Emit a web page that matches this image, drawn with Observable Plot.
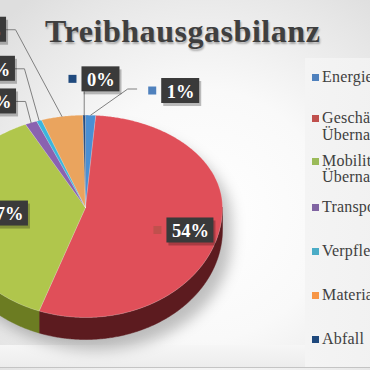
<!DOCTYPE html>
<html>
<head>
<meta charset="utf-8">
<script src="https://cdn.jsdelivr.net/npm/d3@7"></script>
<script src="https://cdn.jsdelivr.net/npm/@observablehq/plot@0.6"></script>
<style>
  html, body { margin: 0; padding: 0; background: #fff; }
  #wrap {
    position: relative; width: 370px; height: 370px; overflow: hidden;
    background: radial-gradient(ellipse 75% 75% at 55% 58%, #ffffff 0%, #f9f9f9 45%, #e6e6e6 85%, #dedede 100%);
    font-family: "Liberation Serif", serif;
  }
  #bottomband { position: absolute; left: 0; top: 345px; width: 370px; height: 23px;
    background: linear-gradient(#f6f6f6, #ececec); }
  #bottomline { position: absolute; left: 0; top: 367px; width: 370px; height: 1px; background: #c4c4c4; }
  #legendpanel { position: absolute; left: 305px; top: 58px; width: 80px; height: 309px;
    background: linear-gradient(90deg, #f4f4f4, #f1f1f1); }
  #chart { position: absolute; left: 0; top: 0; }
  #title { position: absolute; left: 45px; top: 15px; font-size: 32px; line-height: 32px; font-weight: bold;
    letter-spacing: 0.55px; color: #3f3f3f; white-space: nowrap;
    text-shadow: 1px 2px 2px rgba(0,0,0,0.3); }
  .item { position: absolute; left: 322px; font-size: 16px; line-height: 16.5px; color: #404040; white-space: nowrap; letter-spacing: 0.2px; }
  .sw { position: absolute; left: 311.5px; width: 7.5px; height: 7px; }
</style>
</head>
<body>
<div id="wrap">
  <div id="bottomband"></div>
  <div id="bottomline"></div>
  <div id="legendpanel"></div>
  <div id="chart"></div>
  <div id="title">Treibhausgasbilanz</div>
</div>
<script>
// ---- data ----
const categories = ["Energie", "Geschäftsreisen & Übernachtungen", "Mobilität Teilnehmende & Übernachtungen", "Transport", "Verpflegung", "Material", "Abfall"];
const legendLines = [["Energie"], ["Geschäftsreisen &", "Übernachtungen"], ["Mobilität Teilnehmende &", "Übernachtungen"], ["Transport"], ["Verpflegung"], ["Material"], ["Abfall"]];
const shares = [1.2, 54.3, 37.3, 1.4, 0.6, 4.9, 0.3];
const pctLabels = shares.map(v => Math.round(v) + "%");

// ---- style ----
const keyColors  = ["#4f81bd", "#c0504d", "#9bbb59", "#8064a2", "#4bacc6", "#f79646", "#1f497d"];
const faceColors = ["#4a8fd3", "#e04f59", "#b0c64c", "#8a62b0", "#3cb5dc", "#eaa45e", "#274d80"];
const sideColors = ["#2c5a8c", "#5c1b1f", "#6c7c22", "#4e3470", "#21708a", "#9a6020", "#142a48"];
const legendCenters = [77.5, 118.5, 161, 207, 251, 295, 339];

// ---- layout (data units: 1 = pie radius) ----
const CX = 85, CY = 207, SX = 137, SY = 110, TOP = 0.84, DEPTH = 22 / SY;
const labelLayout = [
  {lx: 0.695, ly: -1.059, leader: "left"},
  {lx: 0.766, ly: 0.209, leader: null},
  {lx: -0.588, ly: 0.055, leader: null},
  {lx: -0.642, ly: -0.964, leader: "right"},
  {lx: -0.650, ly: -1.261, leader: "right"},
  {lx: -0.715, ly: -1.616, leader: "right"},
  {lx: 0.113, ly: -1.165, leader: "below"}
];

const pt = a => ({x: Math.sin(a), y: -Math.cos(a) * (Math.cos(a) > 0 ? TOP : 1)});
const arcs = d3.pie().sort(null).value(d => d)(shares);
const STEP = Math.PI / 360;
function arcPoints(a0, a1) {
  const n = Math.max(1, Math.ceil((a1 - a0) / STEP));
  return d3.range(n + 1).map(k => pt(a0 + (a1 - a0) * k / n));
}

const faces = [], sides = [];
arcs.forEach((d, i) => {
  const ps = [{x: 0, y: 0}, ...arcPoints(d.startAngle, d.endAngle), {x: 0, y: 0}];
  ps.forEach(p => faces.push({...p, key: categories[i], fill: faceColors[i]}));
  const a0 = Math.max(d.startAngle, Math.PI / 2), a1 = Math.min(d.endAngle, 3 * Math.PI / 2);
  if (a0 < a1) {
    const top = arcPoints(a0, a1);
    const bot = top.map(p => ({x: p.x, y: p.y + DEPTH})).reverse();
    [...top, ...bot, top[0]].forEach(p => sides.push({...p, key: categories[i], fill: sideColors[i]}));
  }
});

const shadow = d3.range(-1, 1.0001, 0.01).map(x => {
  const c = Math.sqrt(Math.max(0, 1 - x * x));
  return {x: x + 0.07, y1: -c * TOP + 0.12, y2: c + DEPTH + 0.1};
});

const labels = arcs.map((d, i) => {
  const L = labelLayout[i];
  const txt = pctLabels[i];
  const wpx = 11 + 9 * (txt.length - 1) + 18;
  const w = wpx / SX, h = 25 / SY;
  const x1 = L.lx - w / 2, x2 = L.lx + w / 2, y1 = L.ly - h / 2, y2 = L.ly + h / 2;
  const kx2 = x1 - 5 / SX, kx1 = kx2 - 8 / SX;
  return {i, txt, lx: L.lx, ly: L.ly, x1, x2, y1, y2, kx1, kx2, ky1: L.ly - 4 / SY, ky2: L.ly + 4 / SY,
    sx1: x1 + 2 / SX, sx2: x2 + 2 / SX, sy1: y1 + 3 / SY, sy2: y2 + 3 / SY,
    key: keyColors[i], leader: L.leader, mid: (d.startAngle + d.endAngle) / 2};
});

const leaders = [];
labels.forEach(l => {
  if (!l.leader) return;
  const P = pt(l.mid);
  let pts;
  if (l.leader === "right") {
    pts = [{x: l.x2, y: l.ly}, {x: l.x2 + 9 / SX, y: l.ly}, P];
  } else if (l.leader === "left") {
    const sx = l.kx1 - 12 / SX, sy = l.ly - 2 / SY;
    pts = [{x: sx, y: sy}, {x: sx - 9 / SX, y: sy}, P];
  } else {
    pts = [{x: P.x, y: l.y2}, P];
  }
  pts.forEach(p => leaders.push({...p, key: categories[l.i]}));
});

const chart = Plot.plot({
  width: 370, height: 370, margin: 0,
  x: {domain: [-1, 1], range: [CX - SX, CX + SX], axis: null},
  y: {domain: [-1, 1], range: [CY - SY, CY + SY], axis: null},
  color: {type: "identity"},
  style: {background: "transparent", overflow: "visible"},
  marks: [
    Plot.areaY(shadow, {x: "x", y1: "y1", y2: "y2", fill: "#000", fillOpacity: 0.24}),
    Plot.line(sides, {x: "x", y: "y", z: "key", fill: "fill", stroke: "fill", strokeWidth: 0.5}),
    Plot.line(faces, {x: "x", y: "y", z: "key", fill: "fill", stroke: "#ffffff", strokeOpacity: 0.35, strokeWidth: 0.6}),
    Plot.line(leaders, {x: "x", y: "y", z: "key", stroke: "#808080", strokeWidth: 1}),
    Plot.rect(labels, {x1: "sx1", x2: "sx2", y1: "sy1", y2: "sy2", fill: "#000", fillOpacity: 0.25}),
    Plot.rect(labels, {x1: "x1", x2: "x2", y1: "y1", y2: "y2", fill: "#3a3a3a"}),
    Plot.rect(labels, {x1: "kx1", x2: "kx2", y1: "ky1", y2: "ky2", fill: "key"}),
    Plot.text(labels, {x: "lx", y: "ly", text: "txt", fill: "#ffffff", fontSize: 18.5, fontWeight: "bold",
      fontFamily: "Liberation Serif", dy: 1})
  ]
});
d3.select(chart).select('g[aria-label="area"]').style("filter", "blur(7px)");
document.getElementById("chart").appendChild(chart);

// ---- legend ----
const wrap = d3.select("#wrap");
categories.forEach((c, i) => {
  const cy = legendCenters[i];
  wrap.append("div").attr("class", "sw").style("top", (cy - 3.5) + "px").style("background", keyColors[i]);
  wrap.append("div").attr("class", "item").style("top", (cy - 8.5) + "px").html(legendLines[i].join("<br>"));
});
</script>
</body>
</html>
